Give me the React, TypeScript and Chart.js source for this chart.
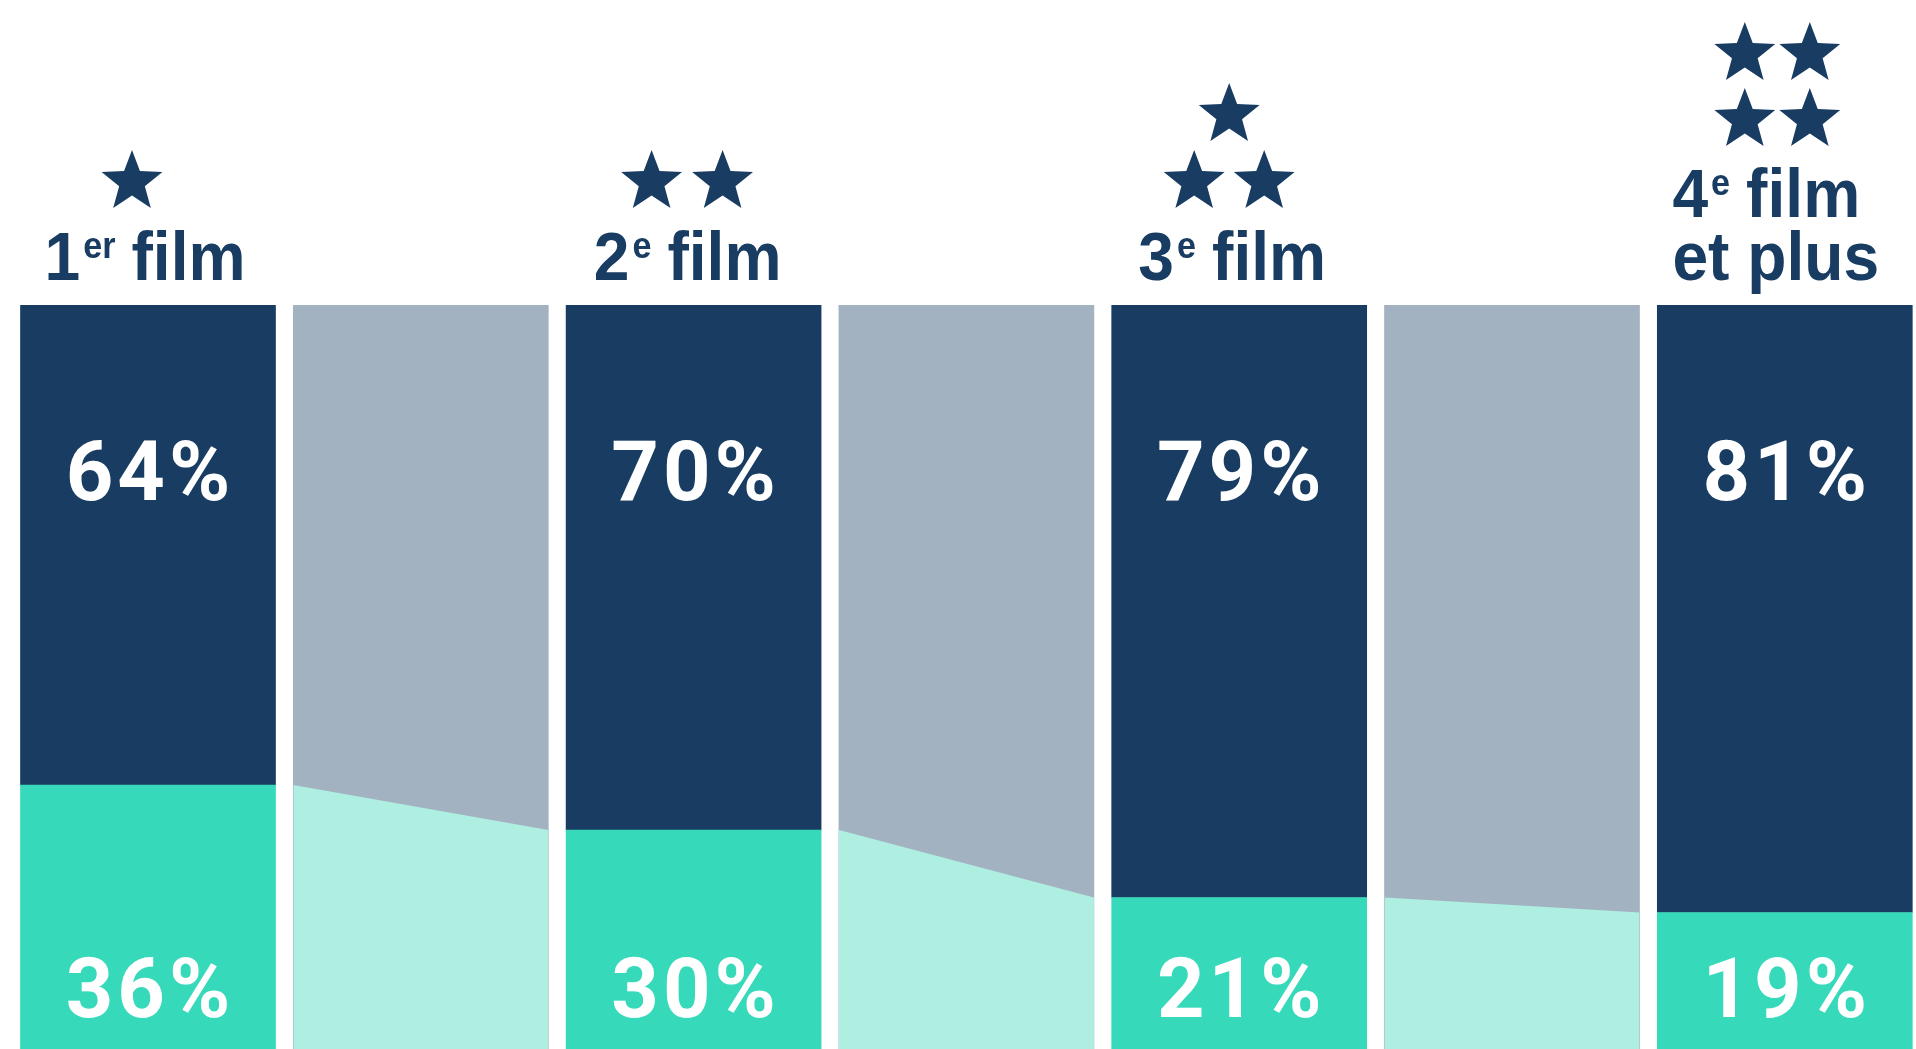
import { useEffect, useRef } from "react";
import { Chart, registerables } from "chart.js";

Chart.register(...registerables);

// ---- data ----
const categories = ["1er film", "2e film", "3e film", "4e film et plus"];
const topShare = [64, 70, 79, 81];
const bottomShare = [36, 30, 21, 19];
const starCounts = [1, 2, 3, 4];
// title pieces per line: [main, superscript, rest]
const titleLines: string[][][] = [
  [["1", "er", "film"]],
  [["2", "e", "film"]],
  [["3", "e", "film"]],
  [["4", "e", "film"], ["et plus", "", ""]],
];

// ---- style / layout constants ----
const NAVY = "#183c62";
const TEAL = "#36d9b9";
const LIGHT_TEAL = "#aeefe2";
const GRAY = "#a3b2c1";
const W = 1916;
const H = 1049;
const PITCH = 272.8; // px per slot
const FIRST_CENTER = 148; // px
const BAR_W = 255; // px
const HALF = BAR_W / 2 / PITCH; // half bar width in slot units
const X_MIN = -FIRST_CENTER / PITCH;
const X_MAX = X_MIN + W / PITCH;

const titleDx = [-3, -6, -7, -9];
const starLayout: number[][][] = [
  [[-16, -123]],
  [[-42, -123], [29, -123]],
  [[-10, -190], [-45, -123], [25, -123]],
  [[-40, -251], [25, -251], [-40, -185], [25, -185]],
];

function drawStar(ctx: CanvasRenderingContext2D, cx: number, cy: number, R: number, r: number) {
  ctx.beginPath();
  for (let k = 0; k < 10; k++) {
    const rad = k % 2 === 0 ? R : r;
    const a = -Math.PI / 2 + (k * Math.PI) / 5;
    const px = cx + rad * Math.cos(a);
    const py = cy + rad * Math.sin(a);
    if (k === 0) ctx.moveTo(px, py);
    else ctx.lineTo(px, py);
  }
  ctx.closePath();
  ctx.fill();
}

const overlayPlugin = {
  id: "overlay",
  afterDraw(chart: any) {
    const ctx: CanvasRenderingContext2D = chart.ctx;
    const area = chart.chartArea;
    const tealMeta = chart.getDatasetMeta(0);
    const darkMeta = chart.getDatasetMeta(1);

    // percentages
    ctx.save();
    ctx.fillStyle = "#ffffff";
    ctx.font = "700 83px Roboto";
    (ctx as any).letterSpacing = "4px";
    ctx.textAlign = "center";
    ctx.textBaseline = "alphabetic";
    darkMeta.data.forEach((bar: any, i: number) => {
      ctx.fillText(`${topShare[i]}%`, bar.x + 2, area.top + 195);
    });
    tealMeta.data.forEach((bar: any, i: number) => {
      ctx.fillText(`${bottomShare[i]}%`, bar.x + 2, area.bottom - 32);
    });
    ctx.restore();

    // titles
    ctx.save();
    ctx.fillStyle = NAVY;
    ctx.textAlign = "left";
    ctx.textBaseline = "alphabetic";
    const SX = 0.93;
    const mainFont = "700 69px 'Liberation Sans', Arial, sans-serif";
    const supFont = "700 36px 'Liberation Sans', Arial, sans-serif";
    const SUP_GAP = 3;
    const WORD_GAP = 16;
    darkMeta.data.forEach((bar: any, i: number) => {
      const lines = titleLines[i];
      const parts = lines.map(([a, s, b]) => {
        ctx.font = mainFont;
        const wa = ctx.measureText(a).width * SX;
        const wb = ctx.measureText(b).width * SX;
        ctx.font = supFont;
        const ws = s ? ctx.measureText(s).width * 0.95 : 0;
        const total = s ? wa + SUP_GAP + ws + WORD_GAP + wb : wa;
        return { wa, ws, wb, total };
      });
      const maxW = Math.max(...parts.map((p) => p.total));
      const left = bar.x + titleDx[i] - maxW / 2;
      lines.forEach(([a, s, b], li) => {
        const baseline = area.top - 25 - (lines.length - 1 - li) * 63;
        const p = parts[li];
        ctx.save();
        ctx.translate(left, baseline);
        ctx.scale(SX, 1);
        ctx.font = mainFont;
        ctx.fillText(a, 0, 0);
        ctx.restore();
        if (s) {
          ctx.save();
          ctx.translate(left + p.wa + SUP_GAP, baseline - 22);
          ctx.scale(0.95, 1);
          ctx.font = supFont;
          ctx.fillText(s, 0, 0);
          ctx.restore();
          ctx.save();
          ctx.translate(left + p.wa + SUP_GAP + p.ws + WORD_GAP, baseline);
          ctx.scale(SX, 1);
          ctx.font = mainFont;
          ctx.fillText(b, 0, 0);
          ctx.restore();
        }
      });
      // stars
      const stars = starLayout[i].slice(0, starCounts[i]);
      stars.forEach(([dx, dy]) => drawStar(ctx, bar.x + dx, area.top + dy, 32, 13.5));
    });
    ctx.restore();
  },
};

export default function App() {
  const ref = useRef<HTMLCanvasElement>(null);

  useEffect(() => {
    if (!ref.current) return;
    const connectorLines = [0, 1, 2].map((i) => ({
      type: "line" as const,
      label: `connector ${i + 1}`,
      data: [
        { x: 2 * i + 1 - HALF, y: bottomShare[i] },
        { x: 2 * i + 1 + HALF, y: bottomShare[i + 1] },
      ],
      stack: `line${i}`,
      fill: "origin",
      backgroundColor: LIGHT_TEAL,
      borderColor: "rgba(0,0,0,0)",
      borderWidth: 0,
      pointRadius: 0,
      tension: 0,
      order: 5,
    }));

    const chart = new Chart(ref.current, {
      type: "bar",
      data: {
        datasets: [
          {
            label: "bottom",
            data: bottomShare.map((v, i) => ({ x: 2 * i, y: v })),
            backgroundColor: TEAL,
            stack: "main",
            barThickness: BAR_W,
            grouped: false,
            borderWidth: 0,
            order: 0,
          },
          {
            label: "top",
            data: topShare.map((v, i) => ({ x: 2 * i, y: v })),
            backgroundColor: NAVY,
            stack: "main",
            barThickness: BAR_W,
            grouped: false,
            borderWidth: 0,
            order: 0,
          },
          {
            label: "connector",
            data: [1, 3, 5].map((x) => ({ x, y: 100 })),
            backgroundColor: GRAY,
            stack: "conn",
            barThickness: BAR_W,
            grouped: false,
            borderWidth: 0,
            order: 10,
          },
          ...connectorLines,
        ] as any,
      },
      options: {
        animation: false,
        responsive: false,
        layout: { padding: { top: 305, left: 0, right: 0, bottom: 0 } },
        plugins: {
          legend: { display: false },
          tooltip: { enabled: false },
          title: { display: false },
        },
        scales: {
          x: {
            type: "linear",
            min: X_MIN,
            max: X_MAX,
            offset: false,
            display: false,
            stacked: true,
            grid: { offset: false },
          },
          y: { min: 0.8, max: 100, display: false, stacked: true },
        },
      },
      plugins: [overlayPlugin],
    });
    return () => chart.destroy();
  }, []);

  return (
    <div style={{ position: "fixed", left: 0, top: 0, width: W, height: H, background: "#fff" }}>
      <canvas ref={ref} width={W} height={H} aria-label={categories.join(", ")} />
    </div>
  );
}
